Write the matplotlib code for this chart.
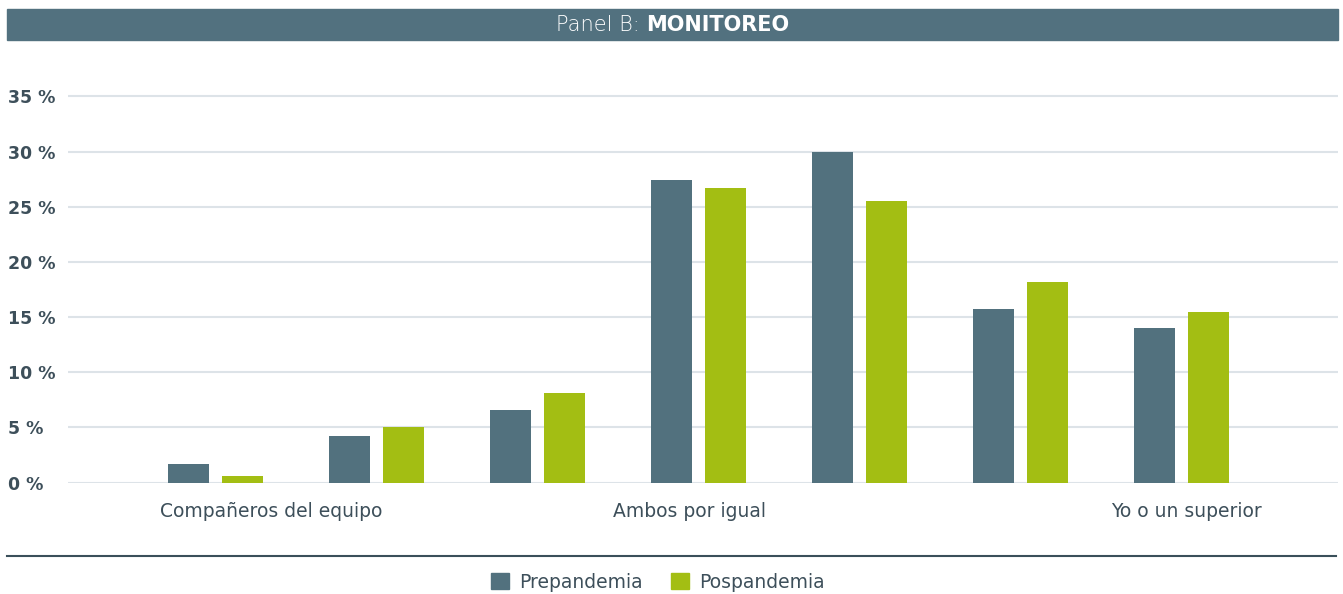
import matplotlib
matplotlib.use("Agg")
import matplotlib.pyplot as plt
import numpy as np
from matplotlib.patches import Rectangle, Patch
from matplotlib.lines import Line2D

# ===========================
# Data
# ===========================
prepandemia = [1.7, 4.2, 6.6, 27.4, 30.0, 15.7, 14.0]
pospandemia = [0.6, 5.0, 8.1, 26.7, 25.5, 18.2, 15.5]
series_names = ["Prepandemia", "Pospandemia"]
tick_labels = ["Compañeros del equipo", "Ambos por igual", "Yo o un superior"]
y_ticks = [0, 5, 10, 15, 20, 25, 30, 35]

c_pre = "#52717e"
c_pos = "#a3be13"
c_text = "#3d4f5a"
c_grid = "#dde3e8"

plt.rcParams["font.family"] = ["DejaVu Sans"]

W, H = 1343, 594
fig = plt.figure(figsize=(W / 100, H / 100), dpi=100)

# axes box in pixel coords
x_left, x_right = 68, 1338
y_zero, y_top = 482.5, 92
ax = fig.add_axes([x_left / W, 1 - y_zero / H, (x_right - x_left) / W, (y_zero - y_top) / H])

x = np.arange(len(prepandemia))
width = 0.254
off = 0.168
ax.bar(x - off, prepandemia, width, color=c_pre, zorder=3)
ax.bar(x + off, pospandemia, width, color=c_pos, zorder=3)

ax.set_xlim(-0.916, 6.97)
ax.set_ylim(0, 35.4)
ax.set_yticks(y_ticks)
ax.set_yticklabels([f"{v} %" for v in y_ticks])
ax.yaxis.grid(True, color=c_grid, linewidth=1.5, zorder=0)
ax.tick_params(axis="y", length=0, pad=0)
for lab in ax.get_yticklabels():
    lab.set_fontweight("bold")
    lab.set_fontsize(12.5)
    lab.set_color(c_text)
    lab.set_horizontalalignment("left")
    lab.set_x(-(x_left - 8) / (x_right - x_left))

ax.set_xticks([0.345, 2.945, 6.03])
ax.set_xticklabels(tick_labels, fontsize=13.5, color=c_text)
ax.tick_params(axis="x", length=0, pad=14)

for s in ax.spines.values():
    s.set_visible(False)

# title bar
fig.patches.append(Rectangle((7 / W, 1 - 40 / H), 1331 / W, 31 / H,
                             transform=fig.transFigure, color="#52717f", zorder=0))
t1 = fig.text(0, 1 - 25 / H, "Panel B: ", color="white", fontsize=15,
              fontweight="light", va="center", ha="left")
t2 = fig.text(0, 1 - 25 / H, "MONITOREO", color="white", fontsize=15,
              fontweight="bold", va="center", ha="left")
fig.canvas.draw()
r = fig.canvas.get_renderer()
w1 = t1.get_window_extent(r).width
w2 = t2.get_window_extent(r).width
start = 673 - (w1 + w2) / 2
t1.set_x(start / W)
t2.set_x((start + w1) / W)

# separator line
fig.add_artist(Line2D([7 / W, 1336 / W], [1 - 555.5 / H] * 2,
                      transform=fig.transFigure, color="#3a4f5a", linewidth=1.5))

# legend
handles = [Patch(color=c_pre), Patch(color=c_pos)]
leg = fig.legend(handles, series_names, loc="center", bbox_to_anchor=(658 / W, 1 - 582 / H),
                 ncol=2, frameon=False, fontsize=13.5, handlelength=0.95, handleheight=0.95,
                 handletextpad=0.55, columnspacing=1.5)
for t in leg.get_texts():
    t.set_color(c_text)

plt.savefig("out.png", dpi=100)
